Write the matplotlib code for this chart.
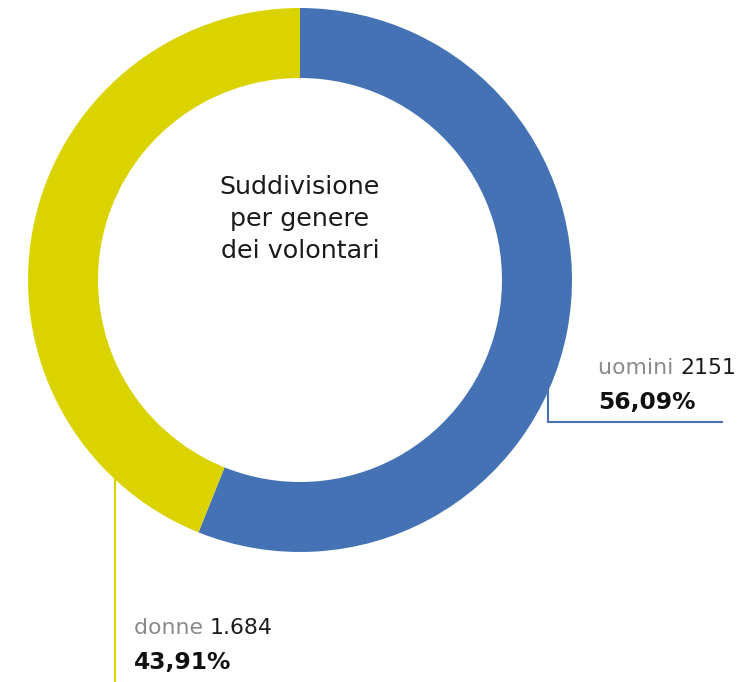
import matplotlib
matplotlib.use("Agg")
import matplotlib.pyplot as plt

# data
labels = ["uomini", "donne"]
counts = [2151, 1684]
count_text = ["2151", "1.684"]
pct_text = ["56,09%", "43,91%"]
colors = ["#4472b5", "#dad300"]
title_lines = "Suddivisione\nper genere\ndei volontari"

W, H = 744, 682
fig = plt.figure(figsize=(W / 100, H / 100), dpi=100)
ax = fig.add_axes([0, 0, 1, 1])

plt.rcParams["font.family"] = ["DejaVu Sans"]

cx, cy = 300, H - 280
ax.pie(counts, colors=colors, startangle=90, counterclock=False,
       radius=272, center=(cx, cy), frame=True,
       wedgeprops=dict(width=70, linewidth=0))
ax.set_xlim(0, W)
ax.set_ylim(0, H)
ax.set_aspect("equal")
ax.axis("off")

ax.text(cx, H - 219, title_lines, ha="center", va="center", fontsize=18.3,
        color="#1a1a1a", linespacing=1.42)

# leader lines
ax.plot([548, 548, 722], [H - 385, H - 422, H - 422], color=colors[0], lw=1.5)
ax.plot([115, 115], [H - 480, 0], color=colors[1], lw=1.5)

fig.canvas.draw()
renderer = fig.canvas.get_renderer()
inv = ax.transData.inverted()


def label(x, y, name, num, pct):
    t = ax.text(x, H - y, name + " ", ha="left", va="center", fontsize=15.8,
                color="#8a8a8a")
    bb = t.get_window_extent(renderer)
    x2 = inv.transform((bb.x1, 0))[0]
    ax.text(x2, H - y, num, ha="left", va="center", fontsize=15.8, color="#1a1a1a")
    ax.text(x, H - y - 35, pct, ha="left", va="center", fontsize=16.8,
            fontweight="bold", color="#111111")


label(598, 368, labels[0], count_text[0], pct_text[0])
label(134, 628, labels[1], count_text[1], pct_text[1])

fig.savefig("out.png", dpi=100, facecolor="white")
